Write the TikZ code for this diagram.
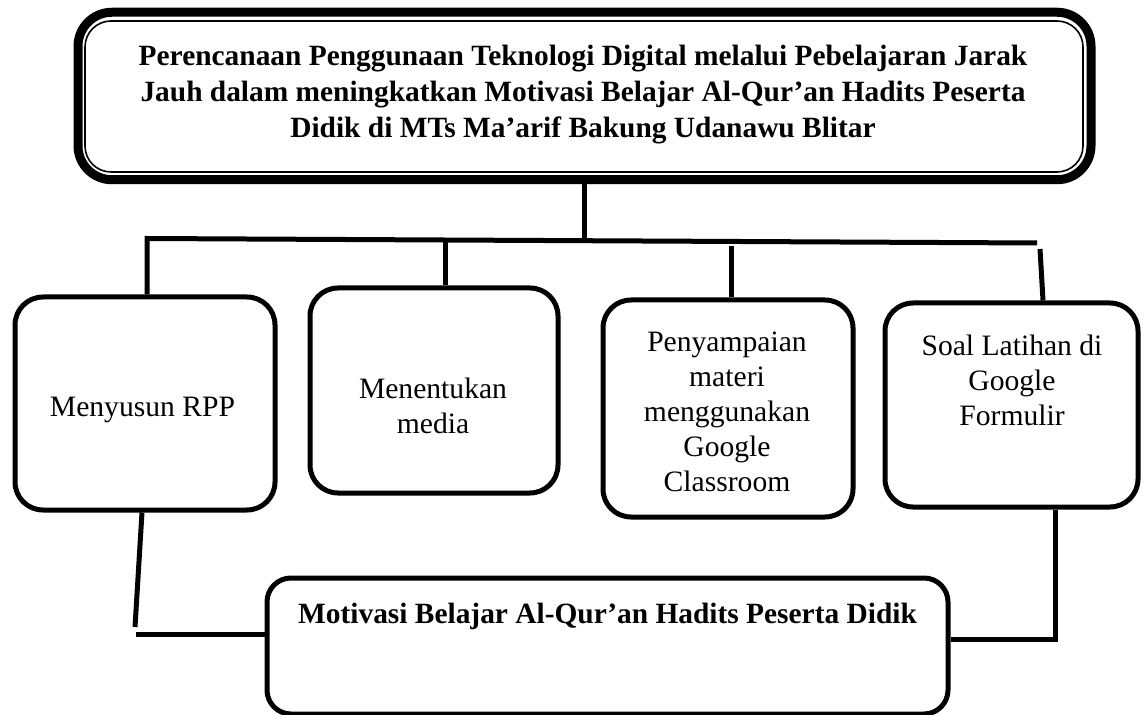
\documentclass[tikz,border=0pt]{standalone}
\usepackage{fontspec}
\setmainfont{Liberation Serif}
\begin{document}
\begin{tikzpicture}[x=0.5pt,y=-0.5pt,
  box/.style={draw, line width=2.5pt, rounded corners=14pt, fill=white, inner sep=0pt},
  conn/.style={line width=2.5pt},
  txt/.style={align=center, font=\fontsize{14.8}{17.5}\selectfont, inner sep=0pt},
  btxt/.style={align=center, font=\bfseries\fontsize{14.7}{18}\selectfont, inner sep=0pt}]
\useasboundingbox (0,0) rectangle (1144,715);
% title box (double border)
\node[draw, line width=4.5pt, rounded corners=17pt, minimum width=506.5pt, minimum height=83.75pt, inner sep=0pt] (top) at (584.5,96) {};
\node[draw, line width=0.8pt, rounded corners=13pt, minimum width=499pt, minimum height=75.5pt, inner sep=0pt] (topin) at (584,96.5) {};
\node[btxt] (toptext) at (583,95) {Perencanaan Penggunaan Teknologi Digital melalui Pebelajaran Jarak\\Jauh dalam meningkatkan Motivasi Belajar Al-Qur’an Hadits Peserta\\Didik di MTs Ma’arif Bakung Udanawu Blitar};
% step boxes
\node[box, minimum width=130pt, minimum height=106.5pt] (b1) at (145,403.5) {};
\node[box, minimum width=124pt, minimum height=102.5pt] (b2) at (434,390.5) {};
\node[box, minimum width=125pt, minimum height=108.5pt] (b3) at (728,408.5) {};
\node[box, minimum width=126.5pt, minimum height=102pt] (b4) at (1011.5,405) {};
\node[box, rounded corners=12pt, minimum width=340.5pt, minimum height=68pt] (bot) at (607.5,646) {};
% texts
\node[txt] (t1) at (142.5,410) {Menyusun RPP};
\node[txt] (t2) at (433,406) {Menentukan\\media};
\node[txt] (t3) at (727,412) {Penyampaian\\materi\\menggunakan\\Google\\Classroom};
\node[txt] (t4) at (1012,380) {Soal Latihan di\\Google\\Formulir};
\node[btxt] (tb) at (607.5,616) {Motivasi Belajar Al-Qur’an Hadits Peserta Didik};
% connectors
\coordinate (barL) at (147,238.5);
\coordinate (barR) at (1037,243);
\coordinate (stemB) at (584,240);
\coordinate (j2) at (445,240.5);
\coordinate (j3) at (731,246);
\coordinate (j4) at (1040,249);
\coordinate (l1) at (142,0);
\coordinate (l2) at (135,627);
\coordinate (l3) at (136,634);
\coordinate (r1) at (1055,639);
\draw[conn] (top.south -| stemB) -- (stemB);
\draw[conn] (b1.north -| barL) -- (barL) -- (barR);
\draw[conn] (j2) -- (j2 |- b2.north);
\draw[conn] (j3) -- (j3 |- b3.north);
\draw[conn] (j4) -- ([xshift=1.5pt]j4 |- b4.north);
\draw[conn] (l1 |- b1.south) -- (l2);
\draw[conn] (l3) -- (l3 -| bot.west);
\draw[conn] (r1 |- b4.south) -- (r1) -- (r1 -| bot.east);
\end{tikzpicture}
\end{document}
